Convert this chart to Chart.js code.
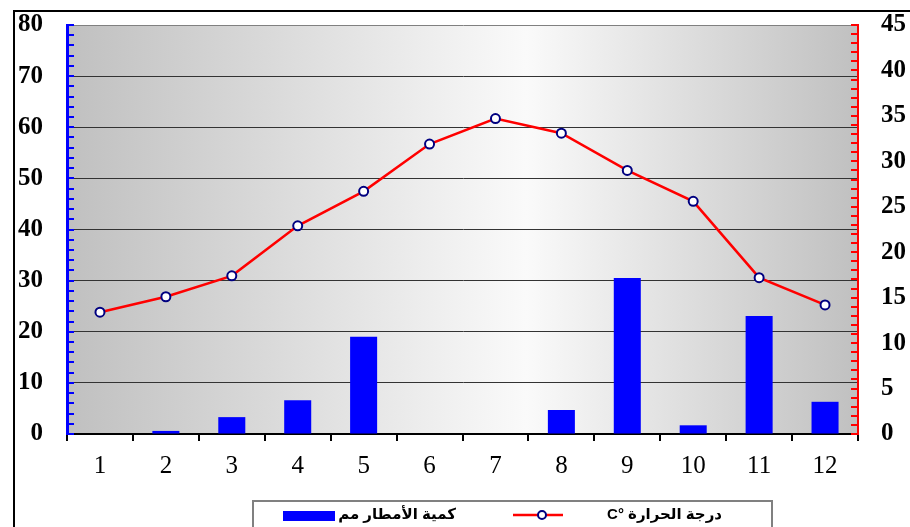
<!DOCTYPE html>
<html lang="ar">
<head>
<meta charset="UTF-8">
<title>Climate chart</title>
<script src="https://cdn.jsdelivr.net/npm/chart.js@4.4.1/dist/chart.umd.min.js"></script>
<style>
    body { margin: 0; background: #fff; }
    .wrap { position: relative; width: 910px; height: 527px; }
</style>
</head>
<body>
<div class="wrap"><canvas id="c" width="910" height="527"></canvas></div>
<script>
    const months = ['1', '2', '3', '4', '5', '6', '7', '8', '9', '10', '11', '12'];
    const rain = [0, 0.6, 3.3, 6.6, 19, 0, 0, 4.7, 30.5, 1.7, 23.1, 6.3];
    const temp = [13.4, 15.1, 17.4, 22.9, 26.7, 31.9, 34.7, 33.1, 29.0, 25.6, 17.2, 14.2];
    const rainLabel = 'كمية الأمطار مم';
    const tempLabel = 'درجة الحرارة °C';

    const serif = "'Times New Roman', 'Liberation Serif', serif";

    // gray -> white -> gray behind the plot, plus outer frame
    const backdrop = {
        id: 'backdrop',
        beforeDraw(chart) {
            const ctx = chart.ctx, a = chart.chartArea;
            ctx.save();
            const g = ctx.createLinearGradient(a.left, 0, a.right, 0);
            g.addColorStop(0, '#c0c0c0');
            g.addColorStop(0.58, '#fafafa');
            g.addColorStop(1, '#c0c0c0');
            ctx.fillStyle = g;
            ctx.fillRect(a.left, a.top, a.right - a.left, a.bottom - a.top);
            ctx.strokeStyle = '#000';
            ctx.lineWidth = 2;
            ctx.beginPath();
            ctx.moveTo(14, 527);
            ctx.lineTo(14, 11);
            ctx.lineTo(910, 11);
            ctx.stroke();
            ctx.restore();
        }
    };

    // inward minor ticks on both value axes, and the legend box
    const extras = {
        id: 'extras',
        afterDraw(chart) {
            const ctx = chart.ctx;
            const yl = chart.scales.y, yr = chart.scales.y1;
            ctx.save();
            ctx.lineWidth = 2;
            ctx.strokeStyle = '#0000ff';
            ctx.beginPath();
            for (let v = 0; v <= 80; v += 2) {
                const p = Math.round(yl.getPixelForValue(v));
                ctx.moveTo(yl.right, p);
                ctx.lineTo(yl.right + 7, p);
            }
            ctx.stroke();
            ctx.strokeStyle = '#ff0000';
            ctx.beginPath();
            for (let v = 0; v <= 45; v += 1) {
                const p = Math.round(yr.getPixelForValue(v));
                ctx.moveTo(yr.left, p);
                ctx.lineTo(yr.left - 7, p);
            }
            ctx.stroke();

            // legend
            ctx.strokeStyle = '#808080';
            ctx.lineWidth = 2;
            ctx.beginPath();
            ctx.moveTo(253, 527);
            ctx.lineTo(253, 501);
            ctx.lineTo(772, 501);
            ctx.lineTo(772, 527);
            ctx.stroke();

            const ds = chart.data.datasets;
            ctx.fillStyle = ds[1].backgroundColor;
            ctx.fillRect(283, 511, 52, 10);
            ctx.strokeStyle = ds[0].borderColor;
            ctx.lineWidth = 2.5;
            ctx.beginPath();
            ctx.moveTo(513, 515);
            ctx.lineTo(563, 515);
            ctx.stroke();
            ctx.beginPath();
            ctx.arc(542, 515, 4, 0, Math.PI * 2);
            ctx.fillStyle = '#fff';
            ctx.fill();
            ctx.strokeStyle = ds[0].pointBorderColor;
            ctx.lineWidth = 2;
            ctx.stroke();

            ctx.fillStyle = '#000';
            ctx.font = "bold 15px 'Liberation Sans', 'DejaVu Sans', sans-serif";
            ctx.direction = 'rtl';
            ctx.textAlign = 'right';
            ctx.textBaseline = 'middle';
            ctx.fillText(ds[1].label, 456, 515);
            ctx.fillText(ds[0].label, 722, 515);
            ctx.restore();
        }
    };

    // tick padding is also added above/below vertical scales; cancel it
    const noVPad = (s) => { s.paddingTop = 0; s.paddingBottom = 0; };

    new Chart(document.getElementById('c'), {
        data: {
            labels: months,
            datasets: [{
                type: 'line',
                label: tempLabel,
                data: temp,
                yAxisID: 'y1',
                borderColor: '#ff0000',
                borderWidth: 2.5,
                pointBackgroundColor: '#ffffff',
                pointBorderColor: '#000080',
                pointBorderWidth: 2,
                pointRadius: 4.5,
                tension: 0,
                order: 0
            }, {
                type: 'bar',
                label: rainLabel,
                data: rain,
                yAxisID: 'y',
                backgroundColor: '#0000ff',
                categoryPercentage: 1,
                barPercentage: 0.41,
                order: 1
            }]
        },
        options: {
            responsive: false,
            animation: false,
            layout: { padding: { top: 25, left: 0, right: 0, bottom: 0 } },
            plugins: { legend: { display: false }, tooltip: { enabled: false } },
            scales: {
                x: {
                    offset: true,
                    grid: {
                        offset: true,
                        drawOnChartArea: false,
                        drawTicks: true,
                        tickLength: 7,
                        color: '#000',
                        lineWidth: 2
                    },
                    border: { display: true, color: '#000', width: 2 },
                    ticks: { color: '#000', padding: 10, font: { family: serif, size: 25 } },
                    afterFit(s) { s.height = 93; s.paddingLeft = 0; s.paddingRight = 0; }
                },
                y: {
                    position: 'left',
                    min: 0,
                    max: 80,
                    ticks: { stepSize: 10, color: '#000', padding: 24, font: { family: serif, size: 25, weight: 'bold' } },
                    grid: {
                        drawTicks: false,
                        color: (c) => c.tick && c.tick.value === 80 ? '#808080' : '#333333',
                        lineWidth: 1
                    },
                    border: { display: true, color: '#0000ff', width: 3 },
                    afterFit(s) { s.width = 67; noVPad(s); }
                },
                y1: {
                    position: 'right',
                    min: 0,
                    max: 45,
                    ticks: { stepSize: 5, color: '#000', padding: 23, font: { family: serif, size: 25, weight: 'bold' } },
                    grid: { drawOnChartArea: false, drawTicks: false },
                    border: { display: true, color: '#ff0000', width: 2 },
                    afterFit(s) { s.width = 52; noVPad(s); }
                }
            }
        },
        plugins: [backdrop, extras]
    });
</script>
</body>
</html>
